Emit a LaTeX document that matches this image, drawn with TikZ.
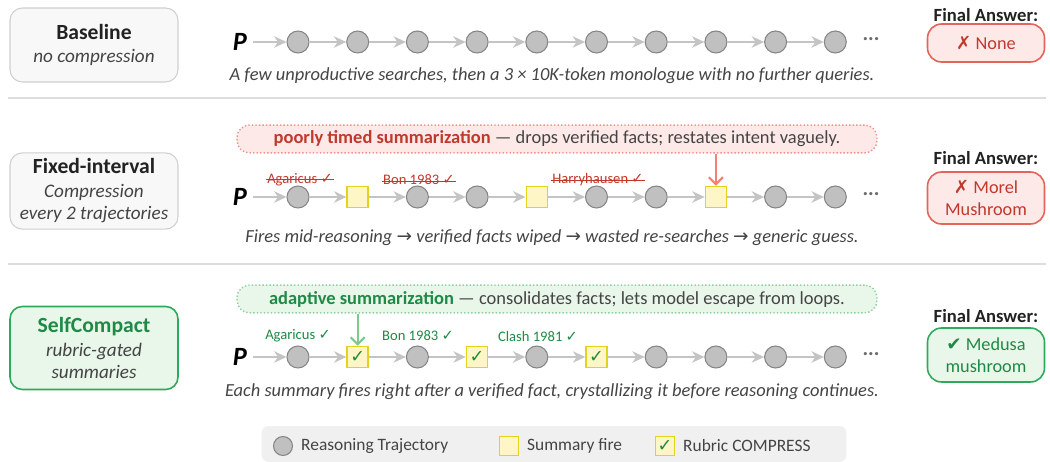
\documentclass[tikz,border=0pt]{standalone}
\usepackage{fontspec}
\setmainfont{Carlito}
\newfontfamily\symf{DejaVu Sans}
\usetikzlibrary{arrows.meta}

\definecolor{sepgray}{HTML}{DDDDDD}
\definecolor{boxgray}{HTML}{CFCFCF}
\definecolor{boxfill}{HTML}{F8F8F8}
\definecolor{txtdark}{HTML}{222222}
\definecolor{txtgray}{HTML}{444444}
\definecolor{flowgray}{HTML}{C4C4C4}
\definecolor{circfill}{HTML}{C0C0C0}
\definecolor{circdraw}{HTML}{858585}
\definecolor{firefill}{HTML}{FFF6C8}
\definecolor{firedraw}{HTML}{E2D31C}
\definecolor{redtxt}{HTML}{C0392B}
\definecolor{redfill}{HTML}{FDE9E8}
\definecolor{reddraw}{HTML}{E2645A}
\definecolor{reddot}{HTML}{F2918A}
\definecolor{redhit}{HTML}{F47F72}
\definecolor{grntxt}{HTML}{1E8A45}
\definecolor{grnfill}{HTML}{E9F6EA}
\definecolor{grndraw}{HTML}{2EAA5C}
\definecolor{grndot}{HTML}{8FD19E}
\definecolor{grnhit}{HTML}{7CCB8C}
\definecolor{legfill}{HTML}{F0F0F0}

\newcommand{\ok}{{\symf ✓}}
\newcommand{\okk}{{\symf ✔}}
\newcommand{\nok}{{\symf ✗}}
\newcommand{\ra}{{\symf →}}
\newcommand{\ttlfont}{\fontsize{12.3}{14}\selectfont\bfseries}

\begin{document}
\begin{tikzpicture}[x=0.02cm, y=-0.02cm,
  stage/.style={draw=boxgray, fill=boxfill, rounded corners=7pt, line width=0.6pt,
    minimum width=3.36cm, align=center, text=txtgray, font=\fontsize{10.9}{12.6}\selectfont},
  traj/.style={circle, draw=circdraw, fill=circfill, minimum size=0.44cm, inner sep=0pt, line width=0.6pt},
  fire/.style={rectangle, draw=firedraw, fill=firefill, minimum size=0.42cm, inner sep=0pt, line width=0.9pt},
  rubric/.style={fire, text=grntxt, font=\fontsize{10}{10}\selectfont\bfseries},
  flow/.style={draw=flowgray, line width=1.1pt, -{Stealth[length=7pt, width=6.5pt, inset=2.2pt]}},
  prompt/.style={font=\fontsize{15}{16}\selectfont\bfseries\itshape},
  more/.style={text=txtgray!80, font=\fontsize{12}{12}\selectfont\bfseries},
  fact/.style={font=\fontsize{8.3}{9}\selectfont, inner sep=0.5pt},
  strike/.style={draw=redtxt, line width=0.55pt},
  caption/.style={text=txtgray, font=\fontsize{10.5}{12}\selectfont\itshape},
  callout/.style={rounded corners=7pt, minimum width=12.8cm, line width=0.8pt,
    dash pattern=on 0.8pt off 1.2pt, font=\fontsize{10.5}{12}\selectfont},
  ans/.style={rounded corners=8pt, minimum width=2.34cm, line width=0.9pt, align=center,
    font=\fontsize{10.4}{12.4}\selectfont},
  anshead/.style={text=txtdark, font=\fontsize{10.6}{12}\selectfont\bfseries},
  legtxt/.style={anchor=west, text=txtgray, font=\fontsize{9.9}{11}\selectfont},
  sep/.style={draw=sepgray, line width=1.2pt}
]
\useasboundingbox (0,0) rectangle (1050,462);

% separators
\draw[sep] (8,98) -- (1046,98);
\draw[sep] (8,264) -- (1046,264);

% ---------------- Baseline ----------------
\node[stage, minimum height=1.48cm] (base) at (94,45)
  {{\ttlfont\color{txtdark}Baseline}\\[1pt]\itshape no compression};
\node[prompt] (pb) at (240,42) {P};
\foreach \i in {1,...,10}
  \node[traj] (b\i) at ({298+59.7*(\i-1)},42) {};
\node[more] (mb) at (871,39) {...};
\draw[flow] (pb) -- (b1);
\foreach \i [evaluate=\i as \j using int(\i+1)] in {1,...,9}
  \draw[flow] (b\i) -- (b\j);
\node[caption] (capb) at (552,76)
  {A few unproductive searches, then a 3 × 10K-token monologue with no further queries.};
\node[anshead] (hb) at (986,15) {Final Answer:};
\node[ans, draw=reddraw, fill=redfill, text=redtxt, minimum height=0.76cm] (ab) at (986,43) {\nok\ None};

% ---------------- Fixed-interval ----------------
\node[stage, minimum height=1.52cm] (fixed) at (94,191)
  {{\ttlfont\color{txtdark}Fixed-interval}\\[1pt]\itshape Compression\\\itshape every 2 trajectories};
\node[callout, draw=reddot, fill=redfill] (cf) at (557,139)
  {\textcolor{redtxt}{\bfseries poorly timed summarization} \textcolor{txtgray}{— drops verified facts; restates intent vaguely.}};
\node[prompt] (pf) at (240,197) {P};
\foreach \i/\t in {1/traj,2/fire,3/traj,4/traj,5/fire,6/traj,7/traj,8/fire,9/traj,10/traj}
  \node[\t] (f\i) at ({298+59.7*(\i-1)},197) {};
\node[more] (mf) at (871,194) {...};
\draw[flow] (pf) -- (f1);
\foreach \i [evaluate=\i as \j using int(\i+1)] in {1,...,9}
  \draw[flow] (f\i) -- (f\j);
\node[fact, text=redtxt] (lf1) at (300,180) {Agaricus \ok};
\node[fact, text=redtxt] (lf3) at (419,180) {Bon 1983 \ok};
\node[fact, text=redtxt] (lf6) at (598,180) {Harryhausen \ok};
\foreach \n in {lf1,lf3,lf6}
  \draw[strike] ([yshift=2.2pt]\n.base west) -- ([yshift=2.2pt]\n.base east);
\draw[draw=redhit, line width=1.2pt, -{Straight Barb[length=4pt, width=8pt]}] (cf.south -| f8) -- (f8);
\node[caption] (capf) at (552,238)
  {Fires mid-reasoning \ra\ verified facts wiped \ra\ wasted re-searches \ra\ generic guess.};
\node[anshead] (hf) at (986,158) {Final Answer:};
\node[ans, draw=reddraw, fill=redfill, text=redtxt, minimum height=1.04cm] (af) at (986,198)
  {\nok\ Morel\\Mushroom};

% ---------------- SelfCompact ----------------
\node[stage, draw=grndraw, fill=grnfill, line width=0.9pt, minimum height=1.66cm] (self) at (94,348)
  {{\ttlfont\color{grntxt}SelfCompact}\\[1pt]\itshape rubric-gated\\\itshape summaries};
\node[callout, draw=grndot, fill=grnfill] (cs) at (557,299)
  {\textcolor{grntxt}{\bfseries adaptive summarization} \textcolor{txtgray}{— consolidates facts; lets model escape from loops.}};
\node[prompt] (ps) at (240,357) {P};
\foreach \i/\t in {1/traj,3/traj,5/traj,7/traj,8/traj,9/traj,10/traj}
  \node[\t] (s\i) at ({298+59.7*(\i-1)},357) {};
\foreach \i in {2,4,6}
  \node[rubric] (s\i) at ({298+59.7*(\i-1)},357) {\ok};
\node[more] (ms) at (871,354) {...};
\draw[flow] (ps) -- (s1);
\foreach \i [evaluate=\i as \j using int(\i+1)] in {1,...,9}
  \draw[flow] (s\i) -- (s\j);
\node[fact, text=grntxt] (ls1) at (298,336) {Agaricus \ok};
\node[fact, text=grntxt] (ls3) at (418,336) {Bon 1983 \ok};
\node[fact, text=grntxt] (ls5) at (538,336) {Clash 1981 \ok};
\draw[draw=grnhit, line width=1.2pt, -{Straight Barb[length=4pt, width=8pt]}] (cs.south -| s2) -- (s2);
\node[caption] (caps) at (552,392)
  {Each summary fires right after a verified fact, crystallizing it before reasoning continues.};
\node[anshead] (hs) at (986,316) {Final Answer:};
\node[ans, draw=grndraw, fill=grnfill, text=grntxt, minimum height=1.08cm] (as) at (986,355)
  {\okk\ Medusa\\mushroom};

% ---------------- legend ----------------
\node[fill=legfill, rounded corners=4pt, minimum width=11.7cm, minimum height=0.72cm] (leg) at (554,444) {};
\node[traj, minimum size=0.38cm] (kt) at (283,446) {};
\node[legtxt] (kta) at (295,446) {Reasoning Trajectory};
\node[fire, minimum size=0.38cm] (kf) at (509,446) {};
\node[legtxt] (kfa) at (521,446) {Summary fire};
\node[rubric, minimum size=0.38cm] (kr) at (665,446) {\ok};
\node[legtxt] (kra) at (677,446) {Rubric COMPRESS};
\end{tikzpicture}
\end{document}
